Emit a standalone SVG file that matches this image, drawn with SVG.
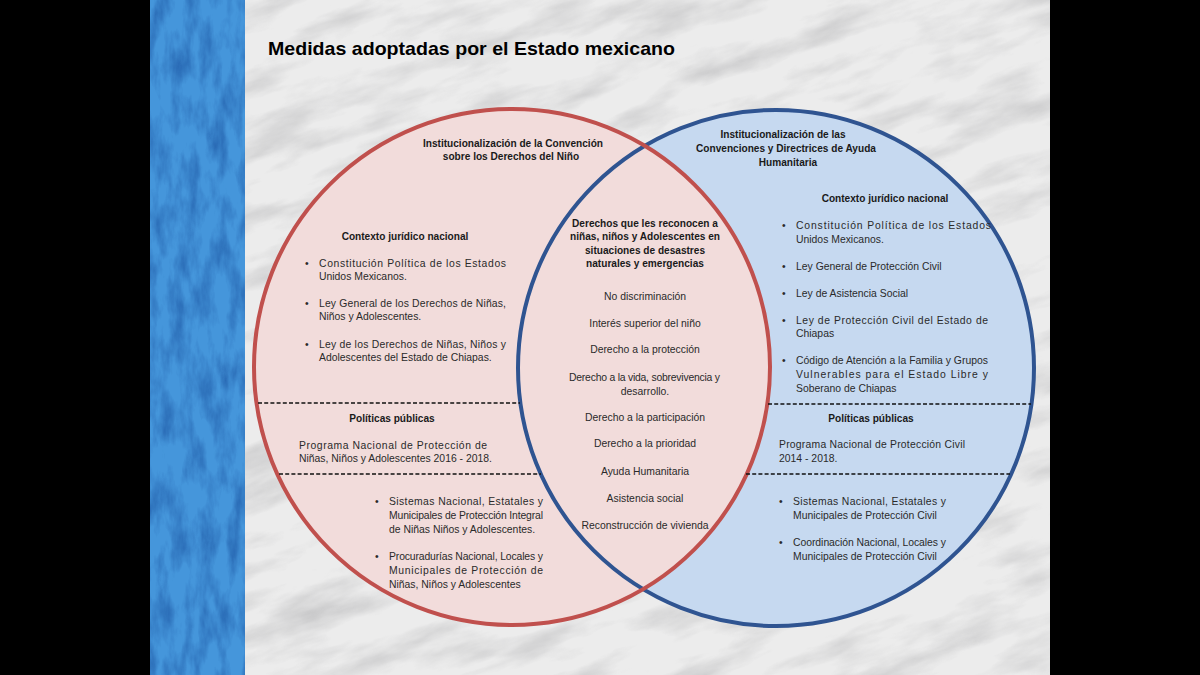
<svg xmlns="http://www.w3.org/2000/svg" width="1200" height="675" viewBox="0 0 1200 675">
<defs>
<style>
.t{font-family:"Liberation Sans",Arial,sans-serif;font-size:10.4px;fill:#2a2a2a}
.b{font-weight:bold;font-size:10.1px;fill:#1a1a1a}
.c{text-anchor:middle}
.d{stroke:#111;stroke-width:1.6;stroke-dasharray:4 2.2;fill:none}
</style>
<filter id="grain" x="0" y="0" width="100%" height="100%" color-interpolation-filters="sRGB">
<feTurbulence type="fractalNoise" baseFrequency="0.01 0.035" numOctaves="5" seed="11" result="n"/>
<feColorMatrix in="n" type="matrix" values="0 0 0 0 0.62  0 0 0 0 0.62  0 0 0 0 0.63  1.8 0 0 0 -0.8"/>
</filter>
<filter id="bgrain" x="0" y="0" width="100%" height="100%" color-interpolation-filters="sRGB">
<feTurbulence type="fractalNoise" baseFrequency="0.07 0.025" numOctaves="4" seed="3" result="n"/>
<feColorMatrix in="n" type="matrix" values="0 0 0 0 0.12  0 0 0 0 0.35  0 0 0 0 0.65  1.8 0 0 0 -0.7"/>
</filter>
<clipPath id="bgclip"><rect x="245" y="0" width="805" height="675"/></clipPath>
</defs>
<rect width="1200" height="675" fill="#000"/>
<rect x="245" y="0" width="805" height="675" fill="#ececec"/>
<g clip-path="url(#bgclip)">
<rect x="-200" y="-300" width="1600" height="1300" filter="url(#grain)" opacity="0.5" transform="rotate(-18 650 337)"/>
</g>
<rect x="150" y="0" width="95" height="675" fill="#4596db"/>
<rect x="150" y="0" width="95" height="675" filter="url(#bgrain)" opacity="0.8"/>
<text x="268" y="55" font-family="Liberation Sans,Arial,sans-serif" font-weight="bold" font-size="19" fill="#000" textLength="407" lengthAdjust="spacingAndGlyphs">Medidas adoptadas por el Estado mexicano</text>

<g id="shapes">
<circle cx="776" cy="368" r="258" fill="#c6d9f0"/>
<circle cx="512" cy="367" r="258" fill="#f2dcdb"/>
<circle cx="776" cy="368" r="258" fill="none" stroke="#2f5491" stroke-width="4"/>
<circle cx="512" cy="367" r="258" fill="none" stroke="#c0504d" stroke-width="4"/>
</g>

<g id="connectors">
<line class="d" x1="258" y1="403" x2="520" y2="403"/>
<line class="d" x1="279" y1="474" x2="541" y2="474"/>
<line class="d" x1="768" y1="404" x2="1031" y2="404"/>
<line class="d" x1="746" y1="474" x2="1010" y2="474"/>
</g>

<g id="left">
<text class="t b c" x="513" y="147">Institucionalización de la Convención</text>
<text class="t b c" x="511" y="160">sobre los Derechos del Niño</text>
<text class="t b c" x="405" y="240">Contexto jurídico nacional</text>
<text class="t" x="305" y="267">•</text>
<text class="t" x="319" y="267" textLength="187" lengthAdjust="spacing">Constitución Política de los Estados</text>
<text class="t" x="319" y="280">Unidos Mexicanos.</text>
<text class="t" x="305" y="307">•</text>
<text class="t" x="319" y="307" textLength="187" lengthAdjust="spacing">Ley General de los Derechos de Niñas,</text>
<text class="t" x="319" y="320">Niños y Adolescentes.</text>
<text class="t" x="305" y="348">•</text>
<text class="t" x="319" y="348" textLength="187" lengthAdjust="spacing">Ley de los Derechos de Niñas, Niños y</text>
<text class="t" x="319" y="361">Adolescentes del Estado de Chiapas.</text>
<text class="t b c" x="392" y="422">Políticas públicas</text>
<text class="t" x="299" y="449" textLength="188" lengthAdjust="spacing">Programa Nacional de Protección de</text>
<text class="t" x="299" y="462">Niñas, Niños y Adolescentes 2016 - 2018.</text>
<text class="t" x="375" y="505">•</text>
<text class="t" x="389" y="505" textLength="154" lengthAdjust="spacing">Sistemas Nacional, Estatales y</text>
<text class="t" x="389" y="519" textLength="154" lengthAdjust="spacing">Municipales de Protección Integral</text>
<text class="t" x="389" y="533">de Niñas Niños y Adolescentes.</text>
<text class="t" x="375" y="560">•</text>
<text class="t" x="389" y="560" textLength="154" lengthAdjust="spacing">Procuradurías Nacional, Locales y</text>
<text class="t" x="389" y="574" textLength="154" lengthAdjust="spacing">Municipales de Protección de</text>
<text class="t" x="389" y="588">Niñas, Niños y Adolescentes</text>
</g>

<g id="middle">
<text class="t b c" x="645" y="227">Derechos que les reconocen a</text>
<text class="t b c" x="645" y="240">niñas, niños y Adolescentes en</text>
<text class="t b c" x="645" y="254">situaciones de desastres</text>
<text class="t b c" x="645" y="267">naturales y emergencias</text>
<text class="t c" x="645" y="300">No discriminación</text>
<text class="t c" x="645" y="327">Interés superior del niño</text>
<text class="t c" x="645" y="353">Derecho a la protección</text>
<text class="t" x="569" y="381" textLength="151" lengthAdjust="spacing">Derecho a la vida, sobrevivencia  y</text>
<text class="t c" x="645" y="395">desarrollo.</text>
<text class="t c" x="645" y="421">Derecho a la participación</text>
<text class="t c" x="645" y="447">Derecho a la prioridad</text>
<text class="t c" x="645" y="475">Ayuda Humanitaria</text>
<text class="t c" x="645" y="502">Asistencia social</text>
<text class="t c" x="645" y="529">Reconstrucción de vivienda</text>
</g>

<g id="right">
<text class="t b c" x="783" y="138">Institucionalización de las</text>
<text class="t b c" x="786" y="152">Convenciones y Directrices de Ayuda</text>
<text class="t b c" x="788" y="166">Humanitaria</text>
<text class="t b c" x="885" y="202">Contexto jurídico nacional</text>
<text class="t" x="782" y="229">•</text>
<text class="t" x="796" y="229" textLength="195" lengthAdjust="spacing">Constitución Política de los Estados</text>
<text class="t" x="796" y="243">Unidos Mexicanos.</text>
<text class="t" x="782" y="270">•</text>
<text class="t" x="796" y="270">Ley General de Protección Civil</text>
<text class="t" x="782" y="297">•</text>
<text class="t" x="796" y="297">Ley de Asistencia Social</text>
<text class="t" x="782" y="324">•</text>
<text class="t" x="796" y="324" textLength="192" lengthAdjust="spacing">Ley de Protección Civil del Estado de</text>
<text class="t" x="796" y="337">Chiapas</text>
<text class="t" x="782" y="364">•</text>
<text class="t" x="796" y="364" textLength="192" lengthAdjust="spacing">Código de Atención a la Familia y Grupos</text>
<text class="t" x="796" y="378" textLength="192" lengthAdjust="spacing">Vulnerables para el Estado Libre y</text>
<text class="t" x="796" y="392">Soberano de Chiapas</text>
<text class="t b c" x="871" y="422">Políticas públicas</text>
<text class="t" x="779" y="448" textLength="186" lengthAdjust="spacing">Programa Nacional de Protección Civil</text>
<text class="t" x="779" y="462">2014 - 2018.</text>
<text class="t" x="779" y="505">•</text>
<text class="t" x="793" y="505" textLength="153" lengthAdjust="spacing">Sistemas Nacional, Estatales y</text>
<text class="t" x="793" y="519">Municipales de Protección Civil</text>
<text class="t" x="779" y="546">•</text>
<text class="t" x="793" y="546" textLength="153" lengthAdjust="spacing">Coordinación Nacional, Locales y</text>
<text class="t" x="793" y="560">Municipales de Protección Civil</text>
</g>
</svg>
